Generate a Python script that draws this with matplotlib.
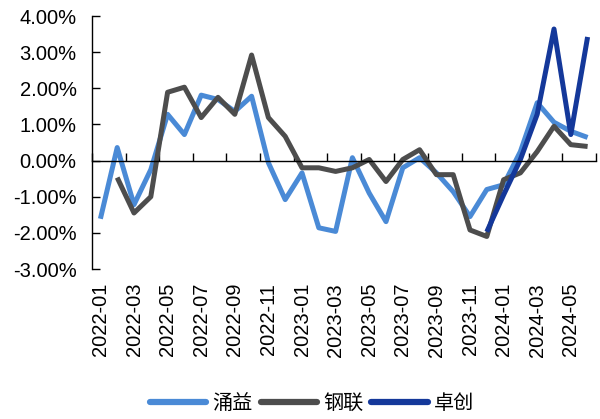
import numpy as np
import matplotlib.pyplot as plt
from matplotlib.ticker import FuncFormatter, FixedLocator

plt.rcParams['font.family'] = ['Liberation Sans', 'Noto Sans CJK SC', 'DejaVu Sans']

months = [f"{y}-{m:02d}" for y in (2022, 2023, 2024) for m in range(1, 13)][:30]

# monthly change, %
yongyi = [-1.61, 0.36, -1.22, -0.25, 1.28, 0.72, 1.81, 1.69, 1.36, 1.78,
          -0.06, -1.08, -0.34, -1.86, -1.96, 0.08, -0.90, -1.69, -0.20, 0.08,
          -0.34, -0.86, -1.55, -0.80, -0.67, 0.25, 1.60, 1.06, 0.81, 0.64]
ganglian = [None, -0.47, -1.45, -1.00, 1.89, 2.03, 1.19, 1.75, 1.28, 2.92,
            1.19, 0.67, -0.20, -0.20, -0.30, -0.20, 0.03, -0.58, 0.03, 0.30,
            -0.39, -0.39, -1.92, -2.10, -0.53, -0.34, 0.25, 0.95, 0.44, 0.39]
zhuochuang = [None] * 23 + [-1.97, -0.95, 0.03, 1.28, 3.64, 0.72, 3.42]

series = [("涌益", yongyi, "#4a8ad6"),
          ("钢联", ganglian, "#4d4d4d"),
          ("卓创", zhuochuang, "#14389a")]

fig = plt.figure(figsize=(6.0, 4.19), dpi=100)
ax = fig.add_axes([92 / 600, 1 - 269 / 419, 504 / 600, 253 / 419])

x = np.arange(len(months))
for name, vals, col in series:
    y = np.array([np.nan if v is None else v for v in vals], dtype=float)
    ax.plot(x, y, color=col, lw=3.6, label=name, solid_capstyle='butt')

ax.set_xlim(-0.5, len(months) - 0.5)
ax.set_ylim(-3, 4)
ax.set_yticks(np.arange(-3, 5, 1))
ax.yaxis.set_major_formatter(FuncFormatter(lambda v, p: f"{v:.2f}%"))
ax.tick_params(axis='y', direction='in', length=6, width=1, labelsize=14.5, pad=11)

for s in ('top', 'right'):
    ax.spines[s].set_visible(False)
ax.spines['left'].set_linewidth(1)
ax.spines['bottom'].set_position(('data', 0))
ax.spines['bottom'].set_linewidth(1)
ax.xaxis.set_major_locator(FixedLocator(np.arange(-0.5, len(months), 2)))
ax.tick_params(axis='x', direction='in', length=6, width=1, labelbottom=False)

sec = ax.secondary_xaxis('bottom')
sec.set_xticks(x[::2])
sec.set_xticklabels(months[::2], rotation=90, fontsize=14.5)
sec.tick_params(length=0, pad=10)
sec.spines['bottom'].set_visible(False)

leg = fig.legend(loc='center', bbox_to_anchor=(0.52, 0.038), ncol=3, frameon=False,
                 prop={'family': 'Noto Sans CJK SC', 'size': 14.5}, handlelength=2.8,
                 handletextpad=0.3, columnspacing=0.4)
for h in leg.get_lines():
    h.set_linewidth(4.5)
    h.set_solid_capstyle('round')

fig.savefig("out.png", dpi=100)
